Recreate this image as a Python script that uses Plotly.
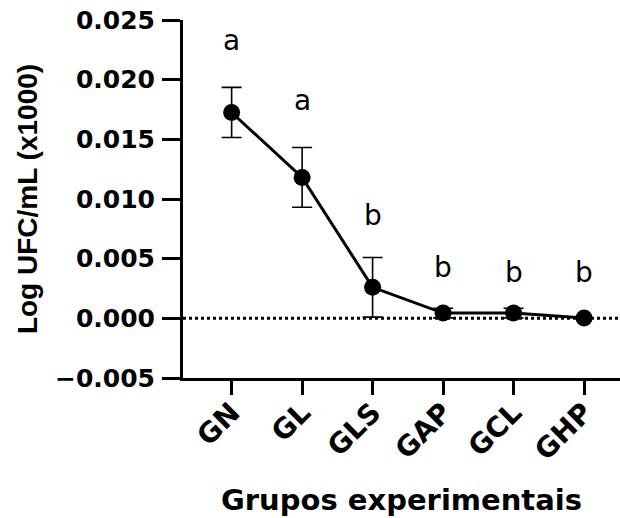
import plotly.graph_objects as go

groups = ["GN", "GL", "GLS", "GAP", "GCL", "GHP"]
means = [0.01725, 0.01181, 0.0026, 0.00044, 0.00044, 0.00002]
errors = [0.0021, 0.0025, 0.0025, 0.0004, 0.0004, 0.0]
letters = ["a", "a", "b", "b", "b", "b"]
letter_y = [0.02325, 0.01822, 0.00859, 0.0043, 0.00388, 0.00388]
y_ticks = [-0.005, 0.0, 0.005, 0.010, 0.015, 0.020, 0.025]

FONT = "DejaVu Sans, Liberation Sans, sans-serif"
FONT2 = "Liberation Sans, Arial, sans-serif"
idx = list(range(len(groups)))

fig = go.Figure()
fig.add_trace(go.Scatter(
    x=idx, y=means, mode="lines+markers",
    line=dict(color="black", width=3),
    marker=dict(color="black", size=17, symbol="circle"),
    error_y=dict(type="data", array=errors, visible=True, color="black",
                 thickness=1.6, width=10),
    showlegend=False,
))

fig.add_shape(type="line", xref="paper", yref="y", x0=0, x1=1, y0=0, y1=0,
              line=dict(color="black", width=3, dash="dot"), layer="below")

for i, (t, ly) in enumerate(zip(letters, letter_y)):
    fig.add_annotation(x=idx[i], y=ly, text=t, showarrow=False,
                       font=dict(family=FONT, size=28, color="black"),
                       xref="x", yref="y")

fig.update_layout(
    width=620, height=518,
    margin=dict(l=183, r=0, t=20, b=140),
    paper_bgcolor="white", plot_bgcolor="white",
    font=dict(family=FONT, color="black"),
)
fig.update_xaxes(
    range=[-0.69, 5.51], tickmode="array", tickvals=idx, ticktext=groups,
    tickangle=-45, ticks="outside", ticklen=14, tickwidth=3, tickcolor="black",
    showline=True, linewidth=3, linecolor="black", showgrid=False, zeroline=False,
    automargin=False, ticklabeloverflow="allow",
    tickfont=dict(family=FONT, size=28, color="black", weight="bold"),
    ticklabelstandoff=-10,
    title=dict(text="<b>Grupos experimentais</b>", font=dict(family=FONT, size=29, color="black"),
               standoff=24),
)
fig.update_yaxes(
    range=[-0.005, 0.025], tickmode="array", tickvals=y_ticks, tickformat=".3f",
    ticks="outside", ticklen=18, tickwidth=3, tickcolor="black",
    showline=True, linewidth=3, linecolor="black", showgrid=False, zeroline=False,
    automargin=False, ticklabeloverflow="allow",
    tickfont=dict(family=FONT, size=25, color="black", weight="bold"),
    ticklabelstandoff=2,
    title=dict(text="<b>Log UFC/mL (x1000)</b>", font=dict(family=FONT2, size=28, color="black"),
               standoff=10),
)

fig.write_html("out.html", config={"displayModeBar": False},
               post_script="document.body.style.margin='0';")
